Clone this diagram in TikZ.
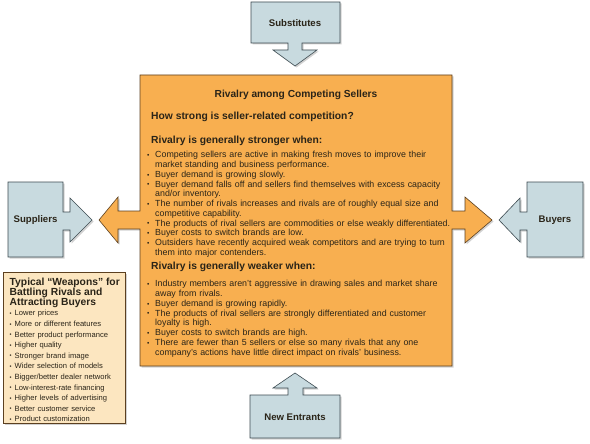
\documentclass[tikz,border=0pt]{standalone}
\usepackage{fontspec}
\setmainfont{Liberation Sans}
\usetikzlibrary{shadows}
\definecolor{orng}{HTML}{F8AF50}
\definecolor{slate}{HTML}{C8DADF}
\definecolor{tanbox}{HTML}{FCE6C0}
\definecolor{ink}{HTML}{2A2418}
\definecolor{edgeO}{HTML}{5C4020}
\definecolor{edgeB}{HTML}{3E4C52}
\newcommand{\bl}[1]{\par\hangindent=8pt\hangafter=1\noindent\makebox[8pt][l]{\raisebox{0.3pt}{\scalebox{0.75}{\textbullet}}}#1\par}
\newcommand{\wl}[1]{\par\hangindent=5pt\hangafter=1\noindent\makebox[5pt][l]{\raisebox{0.3pt}{\scalebox{0.75}{\textbullet}}}#1\par}
\begin{document}
\begin{tikzpicture}[x=1pt,y=-1pt,
  oshape/.style={fill=orng, draw=edgeO, line width=0.6pt, line join=miter,
    drop shadow={shadow xshift=1.5pt, shadow yshift=-1.5pt, opacity=0.35}},
  bshape/.style={fill=slate, draw=edgeB, line width=0.6pt, line join=miter,
    drop shadow={shadow xshift=1.5pt, shadow yshift=-1.5pt, opacity=0.35}},
  tshape/.style={fill=tanbox, draw=edgeO, line width=0.7pt,
    drop shadow={shadow xshift=1.5pt, shadow yshift=-1.5pt, opacity=0.35}},
  lbl/.style={font=\bfseries\fontsize{9.6}{11}\selectfont, text=ink, inner sep=0pt},
  head/.style={font=\bfseries\fontsize{10.3}{12}\selectfont, text=ink, inner sep=0pt, anchor=west},
  bullets/.style={font=\fontsize{8.85}{9.75}\selectfont, text=ink, inner sep=0pt,
    anchor=north west, text width=320pt, execute at begin node={\raggedright\parskip=0pt}},
  wbullets/.style={font=\fontsize{7.6}{10.6}\selectfont, text=ink, inner sep=0pt,
    anchor=north west, text width=118pt, execute at begin node={\raggedright\parskip=0pt}}
]
\useasboundingbox (0,0) rectangle (590,444);
\fill[white] (0,0) rectangle (590,444);

% central box with side arrows
\path[oshape] (140,75) -- (452,75) -- (452,211) -- (465,211) -- (465,197) -- (492,220)
  -- (465,243) -- (465,229) -- (452,229) -- (452,366) -- (140,366) -- (140,229)
  -- (118,229) -- (118,243) -- (99,220) -- (118,197) -- (118,211) -- (140,211) -- cycle;

% substitutes
\path[bshape] (251,2) -- (340,2) -- (340,43) -- (302,43) -- (302,50) -- (317,50)
  -- (295,66) -- (273,50) -- (288,50) -- (288,43) -- (251,43) -- cycle;
% new entrants
\path[bshape] (250,395) -- (288,395) -- (288,388) -- (273,388) -- (295,373) -- (317,388)
  -- (303,388) -- (303,395) -- (340,395) -- (340,438) -- (250,438) -- cycle;
% suppliers
\path[bshape] (8,182) -- (63,182) -- (63,212) -- (70,212) -- (70,198) -- (92,220)
  -- (70,242) -- (70,230) -- (63,230) -- (63,257) -- (8,257) -- cycle;
% buyers
\path[bshape] (583,182) -- (527,182) -- (527,212) -- (520,212) -- (520,198) -- (499,220)
  -- (520,242) -- (520,230) -- (527,230) -- (527,257) -- (583,257) -- cycle;
% weapons box
\path[tshape] (3,272) rectangle (125,423);

\node[lbl] (sub) at (295,23) {Substitutes};
\node[lbl] (new) at (295,417) {New Entrants};
\node[lbl] (sup) at (35.5,220) {Suppliers};
\node[lbl] (buy) at (555,220) {Buyers};

\node[lbl, font=\bfseries\fontsize{10.2}{12}\selectfont] (title) at (296,95) {Rivalry among Competing Sellers};
\node[head] (question) at (151,117) {How strong is seller-related competition?};
\node[head] (stronghd) at (151,141) {Rivalry is generally stronger when:};
\node[bullets] (strong) at (147,148) {%
\bl{Competing sellers are active in making fresh moves to improve their\newline market standing and business performance.}
\bl{Buyer demand is growing slowly.}
\bl{Buyer demand falls off and sellers find themselves with excess capacity\newline and/or inventory.}
\bl{The number of rivals increases and rivals are of roughly equal size and\newline competitive capability.}
\bl{The products of rival sellers are commodities or else weakly differentiated.}
\bl{Buyer costs to switch brands are low.}
\bl{Outsiders have recently acquired weak competitors and are trying to turn\newline them into major contenders.}};
\node[head] (weakhd) at (151,267) {Rivalry is generally weaker when:};
\node[bullets] (weak) at (147,277) {%
\bl{Industry members aren’t aggressive in drawing sales and market share\newline away from rivals.}
\bl{Buyer demand is growing rapidly.}
\bl{The products of rival sellers are strongly differentiated and customer\newline loyalty is high.}
\bl{Buyer costs to switch brands are high.}
\bl{There are fewer than 5 sellers or else so many rivals that any one\newline company’s actions have little direct impact on rivals’ business.}};

\node[font=\bfseries\fontsize{10.3}{9.7}\selectfont, text=ink, inner sep=0pt, anchor=north west,
  align=left] (wtitle) at (9.5,278) {Typical “Weapons” for\\Battling Rivals and\\Attracting Buyers};
\node[wbullets] (wlist) at (9.5,305) {%
\wl{Lower prices}
\wl{More or different features}
\wl{Better product performance}
\wl{Higher quality}
\wl{Stronger brand image}
\wl{Wider selection of models}
\wl{Bigger/better dealer network}
\wl{Low-interest-rate financing}
\wl{Higher levels of advertising}
\wl{Better customer service}
\wl{Product customization}};
\end{tikzpicture}
\end{document}
